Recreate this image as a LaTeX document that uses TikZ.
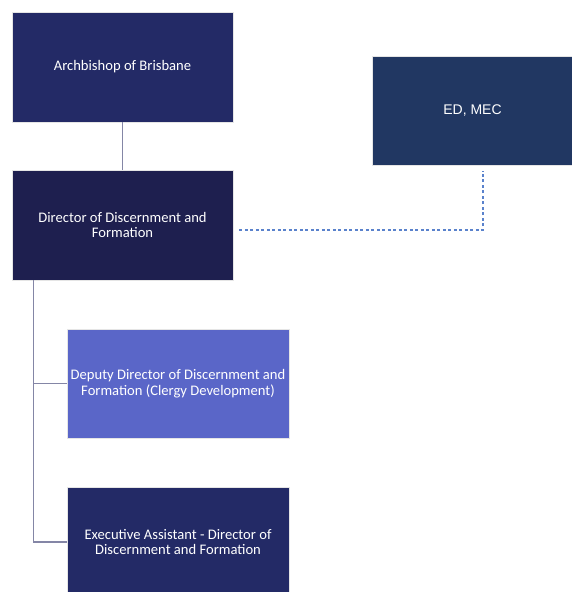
\documentclass[tikz,border=0pt]{standalone}
\usepackage{fontspec}
\setmainfont{Carlito}
\newfontfamily\arialf{Liberation Sans}
\definecolor{navyA}{HTML}{232A66}
\definecolor{navyB}{HTML}{1E1F4F}
\definecolor{navyC}{HTML}{213762}
\definecolor{violetA}{HTML}{5A66C8}
\definecolor{lineG}{HTML}{8486A6}
\definecolor{dashB}{HTML}{5A82CC}
\begin{document}
\begin{tikzpicture}[x=1pt,y=-1pt,
  box/.style={draw=white!80!gray,line width=0.6pt,text=white,align=center,font=\fontsize{14.6}{15.5}\selectfont,inner sep=0pt},
  conn/.style={draw=lineG,line width=1.5pt},
  dconn/.style={draw=dashB,line width=1.3pt,dash pattern=on 3pt off 2.5pt}]
\useasboundingbox (0,0) rectangle (572,592);
\node[box,fill=navyA,minimum width=221pt,minimum height=110pt] (arch) at (122.5,67) {Archbishop of Brisbane};
\node[box,fill=navyB,minimum width=221pt,minimum height=110pt] (dir) at (122.5,225) {Director of Discernment and\\Formation};
\node[box,fill=navyC,minimum width=201pt,minimum height=109pt,font=\arialf\fontsize{14}{15}\selectfont] (ed) at (472.5,110.5) {ED, MEC};
\node[box,fill=violetA,minimum width=222pt,minimum height=109pt] (dep) at (178,383.5) {Deputy Director of Discernment and\\Formation (Clergy Development)};
\node[box,fill=navyA,minimum width=222pt,minimum height=110pt] (exa) at (178,542) {Executive Assistant - Director of\\Discernment and Formation};
\coordinate (dstart) at ([xshift=6pt]dir.east);
\coordinate (dcorner) at (483,230);
\coordinate (dend) at (483,171);
\draw[conn] (arch.south) -- (dir.north);
\draw[conn] ([xshift=-89pt]dir.south) |- (dep.west);
\draw[conn] ([xshift=-89pt]dir.south) |- (exa.west);
\draw[dconn] (dstart |- 0,230) -- (dcorner) -- (dend);
\end{tikzpicture}
\end{document}
